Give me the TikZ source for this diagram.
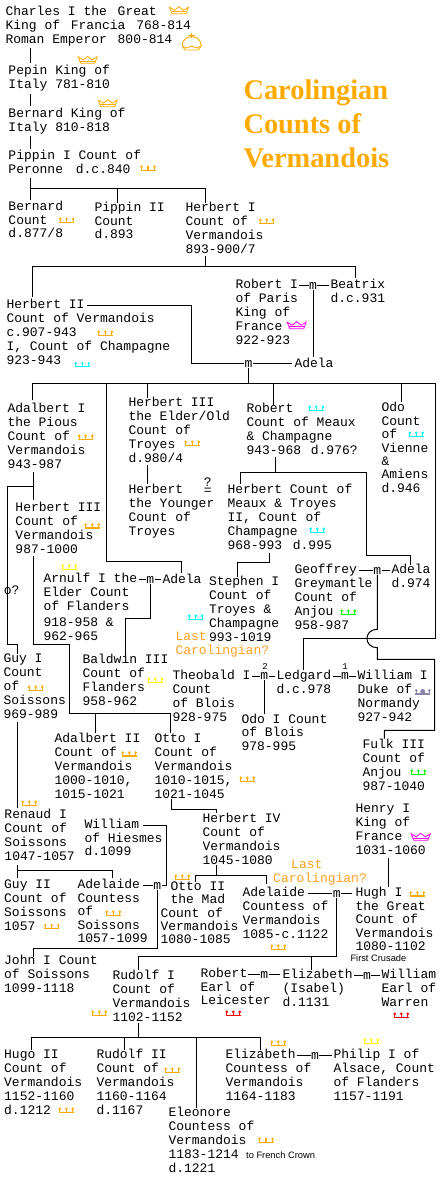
\documentclass[tikz,border=0pt]{standalone}
\usepackage{fontspec}
\setmainfont{Liberation Mono}
\newfontfamily\titlefont{Liberation Serif}
\newfontfamily\notefont{Liberation Sans}
\usetikzlibrary{calc}
\definecolor{crownorange}{HTML}{FFAA00}
\definecolor{lastorange}{HTML}{FFA020}
\definecolor{crowngrey}{HTML}{8888AA}
\definecolor{crowncyan}{HTML}{00FFFF}
\definecolor{crownmagenta}{HTML}{FF00FF}
\definecolor{crownyellow}{HTML}{FFFF00}
\definecolor{crowngreen}{HTML}{00FF00}
\definecolor{crownred}{HTML}{FF0000}
\tikzset{
  person/.style={anchor=north west, inner sep=0pt, align=left, font=\fontsize{13}{14}\selectfont, execute at begin node=\strut},
  tight/.style={font=\fontsize{13}{13.4}\selectfont},
  mnode/.style={inner sep=0pt, font=\fontsize{13}{14}\selectfont},
  sup/.style={inner sep=0pt, font=\fontsize{9}{9}\selectfont},
  lastc/.style={person, text=lastorange},
  note/.style={anchor=west, inner sep=0pt, font=\fontsize{9.3}{10}\notefont},
  crown/.pic={
    \draw[line width=1.5pt] (-7.5,2) -- (7.5,2);
    \draw[line width=1.2pt] (-6.5,2) -- (-6.5,-1.5) (0,2) -- (0,-1.5) (6.5,2) -- (6.5,-1.5);
    \fill (-6.5,-1.5) circle (1.4) (0,-1.5) circle (1.4) (6.5,-1.5) circle (1.4);
  },
  kingcrown/.pic={
    \draw[line width=.8pt] (-9.5,-3.5) -- (-4.5,-.5) -- (0,-4) -- (4.5,-.5) -- (9.5,-3.5) -- (7,3) -- (-7,3) -- cycle;
    \draw[line width=.8pt] (-7.5,.8) -- (7.5,.8);
  },
  orb/.pic={
    \draw[line width=.9pt] (-9.5,3) .. controls (-9.5,-9.5) and (9.5,-9.5) .. (9.5,3) -- (6.5,7) -- (-6.5,7) -- cycle;
    \draw[line width=.8pt] (-9.5,3) -- (-5,5) -- (0,3) -- (5,5) -- (9.5,3);
    \draw[line width=1pt] (0,-10) -- (0,-5) (-3.5,-7.5) -- (3.5,-7.5);
  },
}

\begin{document}
\begin{tikzpicture}[x=1pt, y=-1pt, line width=1pt]
  \useasboundingbox (0,0) rectangle (440,1189);

  \node[anchor=north west, inner sep=0pt, align=left, text=crownorange, font=\fontsize{28.4}{34}\titlefont\bfseries] (title) at (243,79.5) {Carolingian\\Counts of\\Vermandois};

  % upper generations
  \node[person] (charles) at (5,6) {Charles I the\hspace{3pt} Great\\King of\hspace{3pt} Francia\hspace{3pt} 768-814\\Roman Emperor\hspace{3pt} 800-814};
  \node[person] (pepin) at (8,65) {Pepin King of\\Italy 781-810};
  \node[person] (bernardk) at (8,108) {Bernard King of\\Italy 810-818};
  \node[person] (pippin) at (8,150) {Pippin I Count of\\Peronne\hspace{5pt} d.c.840};
  \node[person, tight] (bernard) at (8,201) {Bernard\\Count\\d.877/8};
  \node[person, tight] (pippinii) at (94,202) {Pippin II\\Count\\d.893};
  \node[person] (herberti) at (185,202) {Herbert I\\Count of\\Vermandois\\893-900/7};
  \node[person] (roberti) at (235,279) {Robert I\\of Paris\\King of\\France\\922-923};
  \node[person] (beatrix) at (330,279) {Beatrix\\d.c.931};
  \node[mnode] (mrobert) at (313,285.5) {m};
  \node[person] (herbertii) at (6,299) {Herbert II\\Count of Vermandois\\c.907-943\\I, Count of Champagne\\923-943};
  \node[person] (adela) at (294,357) {Adela};
  \node[mnode] (madela) at (248.5,363.5) {m};

  % children of Herbert II
  \node[person] (adalberti) at (7,403) {Adalbert I\\the Pious\\Count of\\Vermandois\\943-987};
  \node[person] (herbertiiie) at (128,397) {Herbert III\\the Elder/Old\\Count of\\Troyes\\d.980/4};
  \node[person] (robert) at (246,403) {Robert\\Count of Meaux\\\& Champagne\\943-968\hspace{2pt} d.976?};
  \node[person, tight] (odo) at (381,402) {Odo\\Count\\of\\Vienne\\\&\\Amiens\\d.946};
  \node[person] (younger) at (128,484) {Herbert\\the Younger\\Count of\\Troyes};
  \node[person] (quest) at (203.4,477) {?\\[-6.2pt]=};
  \node[person] (herbertm) at (227,484) {Herbert Count of\\Meaux \& Troyes\\II, Count of\\Champagne\\968-993\hspace{3pt} d.995};
  \node[person] (herbertiiic) at (15,502) {Herbert III\\Count of\\Vermandois\\987-1000};
  \node[person] (arnulf) at (43,573) {Arnulf I the\\Elder Count\\of Flanders\\[2pt]918-958 \&\\962-965};
  \node[mnode] (madelaa) at (150.3,579.5) {m};
  \node[person] (adelaa) at (162,573) {Adela};
  \node[person] (stephen) at (208.5,576) {Stephen I\\Count of\\Troyes \&\\Champagne\\993-1019};
  \node[person] (geoffrey) at (294,564) {Geoffrey\\Greymantle\\Count of\\Anjou\\958-987};
  \node[mnode] (mgeoffrey) at (377.3,570.5) {m};
  \node[person] (adelag) at (391,564) {Adela\\d.974};
  \node[person] (oq) at (3.4,584.2) {o?};
  \node[lastc] (lastone) at (175,631) {Last\\Carolingian?};

  % Blois, Flanders, Soissons
  \node[person] (guy) at (3,653.5) {Guy I\\Count\\of\\Soissons\\969-989};
  \node[person] (baldwin) at (82,653.5) {Baldwin III\\Count of\\Flanders\\958-962};
  \node[person] (theobald) at (172,669.5) {Theobald I\\Count\\of Blois\\928-975};
  \node[mnode] (mtheobald) at (264.3,676) {m};
  \node[sup] (supb) at (265,666.5) {2};
  \node[person] (ledgard) at (276,669.5) {Ledgard\\d.c.978};
  \node[mnode] (mledgard) at (345,676) {m};
  \node[sup] (supa) at (345,666.5) {1};
  \node[person] (williamn) at (357,669.5) {William I\\Duke of\\Normandy\\927-942};
  \node[person, tight] (odoi) at (241,713.5) {Odo I Count\\of Blois\\978-995};
  \node[person] (adalbertii) at (54,733) {Adalbert II\\Count of\\Vermandois\\1000-1010,\\1015-1021};
  \node[person] (otto) at (154,733) {Otto I\\Count of\\Vermandois\\1010-1015,\\1021-1045};
  \node[person] (fulk) at (362,738.5) {Fulk III\\Count of\\Anjou\\987-1040};

  % Counts after 1045
  \node[person] (henry) at (355,803.5) {Henry I\\King of\\France\\1031-1060};
  \node[person] (renaud) at (4,808.5) {Renaud I\\Count of\\Soissons\\1047-1057};
  \node[person] (herbertiv) at (202,813) {Herbert IV\\Count of\\Vermandois\\1045-1080};
  \node[person, tight] (williamh) at (84,819) {William\\of Hiesmes\\d.1099};
  \node[lastc] (lasttwoa) at (290.7,858.5) {Last};
  \node[lastc] (lasttwob) at (272.7,872) {Carolingian?};
  \node[person] (guyii) at (3.7,879.5) {Guy II\\Count of\\Soissons\\1057};
  \node[person, tight] (adelaide) at (77,879) {Adelaide\\Countess\\of\\Soissons\\1057-1099};
  \node[mnode] (madelaide) at (157.3,885.5) {m};
  \node[person, tight] (ottoii) at (160,881) {\hspace*{10pt}Otto II\\\hspace*{10pt}the Mad\\Count of\\Vermandois\\1080-1085};
  \node[person] (adelaideii) at (242,887) {Adelaide\\Countess of\\Vermandois\\1085-c.1122};
  \node[mnode] (madelaideii) at (336.7,893.5) {m};
  \node[person, tight] (hugh) at (355,887) {Hugh I\\the Great\\Count of\\Vermandois\\1080-1102};
  \node[note] (crusade) at (350,958) {First Crusade};
  \node[person] (john) at (3.7,954.5) {John I Count\\of Soissons\\1099-1118};
  \node[person] (rudolf) at (112,970) {Rudolf I\\Count of\\Vermandois\\1102-1152};
  \node[person, tight] (robertl) at (200,968) {Robert\\Earl of\\Leicester};
  \node[mnode] (mrobertl) at (264.3,974.5) {m};
  \node[person] (elizi) at (282,969) {Elizabeth\\(Isabel)\\d.1131};
  \node[mnode] (mwarren) at (367,975.5) {m};
  \node[person] (williamw) at (381,969) {William\\Earl of\\Warren};

  % last generation
  \node[person] (hugoii) at (3.7,1049) {Hugo II\\Count of\\Vermandois\\1152-1160\\d.1212};
  \node[person] (rudolfii) at (96,1049) {Rudolf II\\Count of\\Vermandois\\1160-1164\\d.1167};
  \node[person] (elizii) at (225,1049) {Elizabeth\\Countess of\\Vermandois\\1164-1183};
  \node[mnode] (melizii) at (315,1055.5) {m};
  \node[person] (philip) at (333,1049) {Philip I of\\Alsace, Count\\of Flanders\\1157-1191};
  \node[person] (eleonore) at (168,1107) {Eleonore\\Countess of\\Vermandois\\1183-1214\\d.1221};
  \node[note] (french) at (245.7,1155) {to French Crown};

  % descent from Charles
  \draw ($(charles.north west)+(25.3,42)$) -- ($(pepin.north west)+(22.3,-2.3)$);
  \draw ($(pepin.north west)+(22.3,29)$) -- ($(bernardk.north west)+(22.3,-2)$);
  \draw ($(bernardk.north west)+(22.3,28)$) -- ($(pippin.north west)+(22.3,-1.3)$);
  \draw ($(pippin.north west)+(22.3,28)$) -- ($(bernard.north west)+(22.3,-1)$);
  \coordinate (buspi) at (30.3,188.3);
  \draw (buspi) -| ($(herberti.north west)+(20.3,.7)$);
  \draw ($(pippinii.north west)+(23.3,.7)$) -- (117.3,188.3);
  \draw ($(herberti.north west)+(20.3,54)$) -- (205.3,266.7);
  \draw ($(herbertii.north west)+(26.3,-2)$) |- (355.3,266.7) -- ($(beatrix.north west)+(25.3,-1)$);

  % marriages of Herbert II
  \draw ($(roberti.north west)+(64,6.5)$) -- (mrobert.west);
  \draw (mrobert.east) -- ($(beatrix.north west)+(-1,6.5)$);
  \draw (mrobert.south) -- ($(adela.north west)+(19,0)$);
  \draw ($(herbertii.north west)+(81,6.5)$) -| (191.7,330) |- (madela.west);
  \draw (madela.east) -- ($(adela.north west)+(-2,6.5)$);

  % children bus
  \coordinate (busb) at (248.5,383.3);
  \draw (madela.south) -- (busb);
  \draw ($(adalberti.north west)+(25.3,-3)$) |- (435.3,383.3) |- (303.3,638.3) -- ($(ledgard.north west)+(27.3,.5)$);
  \draw ($(herbertiiie.north west)+(19.3,1.3)$) -- (147.3,383.3);
  \draw ($(robert.north west)+(27.3,2)$) -- (273.3,383.3);
  \draw ($(odo.north west)+(20.3,0)$) -- (401.3,383.3);
  \draw (106.3,383.3) |- ($(adelaa.north west)+(19.7,-11.7)$) -- ($(adelaa.north west)+(19.7,.3)$);
  \draw ($(herbertiiie.north west)+(19.3,68)$) -- ($(younger.north west)+(19.3,0)$);

  \draw ($(adalberti.north west)+(26.3,68.7)$) -- ($(herbertiiic.north west)+(18.3,-2)$);
  \coordinate (busa) at (33.3,486.7);
  \draw (busa) -| (7.3,644) -| ($(guy.north west)+(14.3,.5)$);
  \draw ($(herbertiiic.north west)+(18.3,54)$) |- (69.3,644) -- (69.3,713.3) -| ($(otto.north west)+(16.7,-.5)$);
  \draw ($(adalbertii.north west)+(41.3,0)$) -- (95.3,713.3);

  \coordinate (busd) at (275.3,472.3);
  \draw ($(robert.north west)+(29.3,54.3)$) -- (busd);
  \draw ($(herbertm.north west)+(13.3,0)$) |- (366.7,472.3) |- (410.7,555.7) -- ($(adelag.north west)+(19.7,1)$);
  \draw ($(herbertm.north west)+(42.3,69.3)$) |- (237.3,562.3) -- ($(stephen.north west)+(28.8,.7)$);

  % Arnulf, Geoffrey and Ledgard
  \draw ($(arnulf.north west)+(96,6.5)$) -- (madelaa.west);
  \draw (madelaa.east) -- ($(adelaa.north west)+(-1,6.5)$);
  \draw (madelaa.south) |- (125.3,618.3) -- ($(baldwin.north west)+(43.3,2.5)$);
  \draw ($(geoffrey.north west)+(65.3,6.5)$) -- (mgeoffrey.west);
  \draw (mgeoffrey.east) -- ($(adelag.north west)+(-1,6.5)$);
  \draw (mgeoffrey.south) -- (377.3,629.3) .. controls (363.5,629.3) and (363.5,647.7) .. (377.3,647.7) |- (434.7,659.3) |- (384.3,730.3) -- ($(fulk.north west)+(22.3,.2)$);
  \draw ($(theobald.north west)+(79.7,6.5)$) -- (mtheobald.west);
  \draw (mtheobald.east) -- ($(ledgard.north west)+(-1,6.5)$);
  \draw (mtheobald.south) -- ($(odoi.north west)+(23.3,.8)$);
  \draw ($(ledgard.north west)+(56.7,6.5)$) -- (mledgard.west);
  \draw (mledgard.east) -- ($(williamn.north west)+(-1,6.5)$);

  % Soissons
  \draw ($(guy.north west)+(14.3,68.5)$) -- ($(renaud.north west)+(13.3,-.8)$);
  \draw ($(renaud.north west)+(13.3,56.5)$) -- ($(guyii.north west)+(13.6,-1.5)$);
  \draw (17.3,870.7) -| ($(adelaide.north west)+(35.3,-1)$);
  \draw ($(adelaide.north west)+(65.7,6.5)$) -- (madelaide.west);
  \draw ($(williamh.north west)+(58.7,6.5)$) -| (166.7,860) |- (madelaide.east);
  \draw (madelaide.south) |- (33.3,948.3) -- ($(john.north west)+(29.6,2.8)$);

  % Herbert IV and after
  \draw ($(otto.north west)+(17.3,66)$) |- (216.7,809.3) -- ($(herbertiv.north west)+(14.7,0)$);
  \draw ($(herbertiv.north west)+(14.7,52)$) -- (216.7,875);
  \draw ($(ottoii.north west)+(35,.7)$) |- ($(adelaideii.north west)+(24.7,-12)$) -- ($(adelaideii.north west)+(24.7,-3)$);
  \draw ($(adelaideii.north west)+(66.3,6.5)$) -- (madelaideii.west);
  \draw (madelaideii.east) -- ($(hugh.north west)+(-3,6.5)$);
  \draw ($(henry.north west)+(33.3,54.8)$) -- ($(hugh.north west)+(33.3,.3)$);
  \draw (madelaideii.south) |- (138.3,956.3) -- ($(rudolf.north west)+(26.3,0)$);
  \draw ($(elizi.north west)+(29.7,1)$) -- (311.7,956.3);
  \draw ($(robertl.north west)+(48,6.5)$) -- (mrobertl.west);
  \draw (mrobertl.east) -- ($(elizi.north west)+(-2,5.5)$);
  \draw ($(elizi.north west)+(72,6.5)$) -- (mwarren.west);
  \draw (mwarren.east) -- ($(williamw.north west)+(-1,6.5)$);

  \coordinate (busf) at (138.3,1037.3);
  \draw ($(rudolf.north west)+(26.3,53.3)$) -- (busf);
  \draw ($(hugoii.north west)+(27.6,1)$) |- (260.3,1037.3) -- ($(elizii.north west)+(35.3,1)$);
  \draw ($(rudolfii.north west)+(28.3,1)$) -- (124.3,1037.3);
  \draw ($(eleonore.north west)+(28.3,.7)$) -- (196.3,1037.3);
  \draw ($(elizii.north west)+(71.7,6.5)$) -- (melizii.west);
  \draw (melizii.east) -- ($(philip.north west)+(-1,6.5)$);

  % crowns
  \foreach \px/\py in {148/168.3, 66.7/220.3, 266.7/221.3, 105.3/333.3, 85.7/437.3, 192.3/443.3, 92.3/526, 35.7/688.3, 129.3/754, 247.3/779.3, 29.3/803.3, 182.3/877.3, 113.3/913.3, 51.7/926.7, 278.3/947.3, 417.3/894, 99.3/1013.3, 278.3/1043.3, 172.3/1070.3, 66.3/1110.3, 266/1140.3}
    \pic[color=crownorange] at (\px,\py) {crown};
  \foreach \px/\py in {82.3/364.7, 316.3/408.3, 416.3/434.3, 317.3/530.3, 195.7/617.3}
    \pic[color=crowncyan] at (\px,\py) {crown};
  \foreach \px/\py in {69.3/567.3, 155.3/680.3, 371.3/1041.3}
    \pic[color=crownyellow] at (\px,\py) {crown};
  \foreach \px/\py in {348.3/612.3, 418.3/772.3}
    \pic[color=crowngreen] at (\px,\py) {crown};
  \foreach \px/\py in {233.3/1013.3, 401.3/1015.3}
    \pic[color=crownred] at (\px,\py) {crown};
  \pic[color=crowngrey] at (422.7,692) {crown};
  \fill[crowngrey] (422.7,691.5) circle (2.5);
  \foreach \px/\py in {179/10.7, 87.7/60.3, 107.7/103.7}
    \pic[color=crownorange] at (\px,\py) {kingcrown};
  \foreach \px/\py in {296.7/325.7, 420.7/837.3}
    \pic[color=crownmagenta] at (\px,\py) {kingcrown};
  \pic[color=crownorange] at (191.7,43) {orb};
\end{tikzpicture}
\end{document}
